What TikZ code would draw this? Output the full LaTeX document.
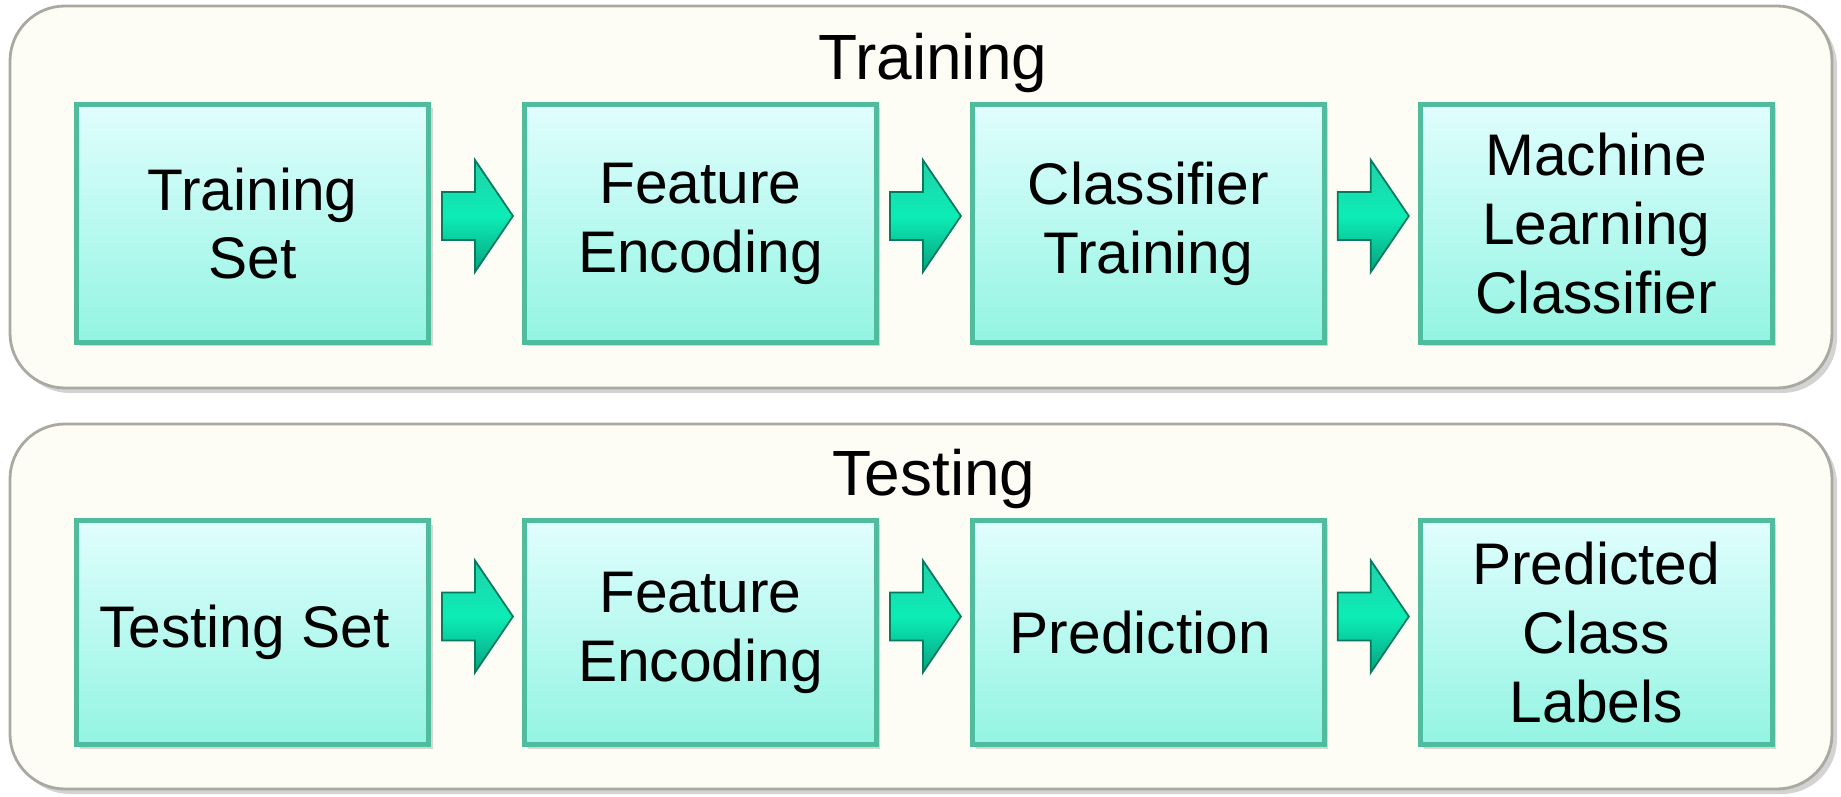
\documentclass[tikz,border=0pt]{standalone}
\usepackage{fontspec}
\setmainfont{Liberation Sans}
\usepackage{tikz}
\usetikzlibrary{positioning, calc, shadows}

\definecolor{panelfill}{HTML}{FDFDF5}
\definecolor{paneledge}{HTML}{A9A9A2}
\definecolor{boxtop}{HTML}{E0FEFE}
\definecolor{boxbottom}{HTML}{93F4E2}
\definecolor{boxedge}{HTML}{4FBC9D}
\definecolor{arrowtop}{HTML}{22D0AA}
\definecolor{arrowdark}{HTML}{06A27E}
\definecolor{arrowlight}{HTML}{0CEDB6}
\definecolor{arrowedge}{HTML}{067A5E}

\begin{document}
\begin{tikzpicture}[
    node distance=9.1mm,
    panel/.style={
        rectangle,
        rounded corners=5.5mm,
        draw=paneledge,
        line width=0.8pt,
        fill=panelfill,
        minimum width=18.22cm,
        drop shadow={shadow xshift=0.5mm, shadow yshift=-0.5mm, opacity=0.35}
    },
    title/.style={
        font=\fontsize{18.2}{22}\selectfont
    },
    stage/.style={
        rectangle,
        draw=boxedge,
        line width=1.4pt,
        top color=boxtop,
        bottom color=boxbottom,
        align=center,
        minimum width=3.52cm,
        minimum height=2.38cm,
        inner sep=0pt,
        font=\fontsize{16.7}{19.6}\selectfont,
        drop shadow={shadow xshift=0.4mm, shadow yshift=-0.4mm, opacity=0.3}
    },
    flow/.style={
        draw=arrowedge,
        line width=0.5pt,
        top color=arrowtop,
        bottom color=arrowdark,
        middle color=arrowlight,
        to path={
            ($(\tikztostart)+(1.1mm,2.4mm)$) -- ($(\tikztostart)+(4.4mm,2.4mm)$)
            -- ($(\tikztostart)+(4.4mm,5.6mm)$) -- ($(\tikztotarget)+(-0.9mm,0)$)
            -- ($(\tikztostart)+(4.4mm,-5.6mm)$) -- ($(\tikztostart)+(4.4mm,-2.4mm)$)
            -- ($(\tikztostart)+(1.1mm,-2.4mm)$) -- cycle
        }
    }
]

\useasboundingbox (0,0) rectangle (18.41,-7.97);

% ------------------------------------------------
% Panels
% ------------------------------------------------

\node[panel, minimum height=3.82cm] (trpanel) at (9.21,-1.97) {};
\node[panel, minimum height=3.65cm] (tspanel) at (9.21,-6.065) {};

\node[title, anchor=base] (trtitle) at (9.33,-0.80) {Training};
\node[title, anchor=base] (tstitle) at (9.34,-4.95) {Testing};

% ------------------------------------------------
% Training row
% ------------------------------------------------

\node[stage] (trset) at (2.525,-2.235) {
    Training\\Set
};

\node[stage, right=of trset] (trenc) {
    Feature\\Encoding
};

\node[stage, right=of trenc] (clftrain) {
    Classifier\\Training
};

\node[stage, right=of clftrain] (mlclf) {
    Machine\\Learning\\Classifier
};

% ------------------------------------------------
% Testing row
% ------------------------------------------------

\node[stage, minimum height=2.24cm] (tsset) at (2.525,-6.325) {
    Testing Set
};

\node[stage, minimum height=2.24cm, right=of tsset] (tsenc) {
    Feature\\Encoding
};

\node[stage, minimum height=2.24cm, right=of tsenc] (predict) {
    Prediction
};

\node[stage, minimum height=2.24cm, right=of predict] (labels) {
    Predicted\\Class\\Labels
};

% ------------------------------------------------
% Arrows
% ------------------------------------------------

\draw[flow] ([yshift=0.75mm]trset.east) to ([yshift=0.75mm]trenc.west);
\draw[flow] ([yshift=0.75mm]trenc.east) to ([yshift=0.75mm]clftrain.west);
\draw[flow] ([yshift=0.75mm]clftrain.east) to ([yshift=0.75mm]mlclf.west);

\draw[flow] ([yshift=1.6mm]tsset.east) to ([yshift=1.6mm]tsenc.west);
\draw[flow] ([yshift=1.6mm]tsenc.east) to ([yshift=1.6mm]predict.west);
\draw[flow] ([yshift=1.6mm]predict.east) to ([yshift=1.6mm]labels.west);

\end{tikzpicture}
\end{document}
